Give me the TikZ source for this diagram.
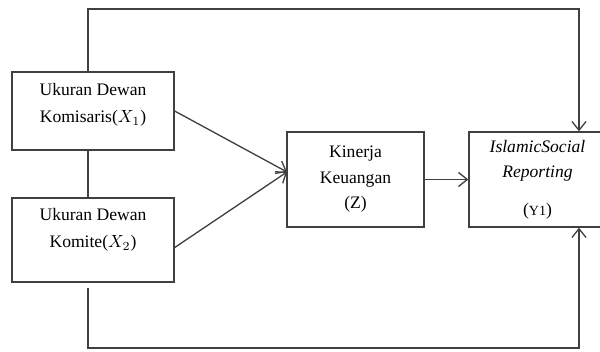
\documentclass[tikz,border=0pt]{standalone}
\usepackage{fontspec}
\setmainfont{Liberation Serif}
\usetikzlibrary{arrows.meta,positioning,calc}

\begin{document}
\begin{tikzpicture}[x=0.02cm,y=-0.02cm,
  box/.style={draw=black!75,line width=0.75pt,inner sep=0pt},
  link/.style={draw=black!75,line width=0.75pt},
  tip/.style={-{Straight Barb[length=5pt,width=8pt]}},
  txt/.style={font=\fontsize{10}{14.5}\selectfont,align=center,inner sep=0pt}]
\useasboundingbox (0,0) rectangle (600,352);
% boxes
\node[box,minimum width=3.24cm,minimum height=1.56cm] (x1) at (93,111) {};
\node[box,minimum width=3.24cm,minimum height=1.68cm] (x2) at (93,240) {};
\node[box,txt,minimum width=2.74cm,minimum height=1.9cm] (z) at (355.5,179.5)
  {Kinerja\\Keuangan\\(Z)};
\node[box,txt,minimum width=2.74cm,minimum height=1.9cm] (y) at (537.5,179.5)
  {\textit{IslamicSocial}\\\textit{Reporting}\\[7pt]({\footnotesize Y1})};
\node[txt,anchor=north,font=\fontsize{10}{15.3}\selectfont] (x1t) at (93,83)
  {Ukuran Dewan\\Komisaris($X_1$)};
\node[txt,anchor=north,font=\fontsize{10}{15.3}\selectfont] (x2t) at (93,208)
  {Ukuran Dewan\\Komite($X_2$)};
% corners of the outer lines
\coordinate (topl) at (88,9);
\coordinate (topr) at (579,9);
\coordinate (botl) at (88,348);
\coordinate (botr) at (579,348);
\coordinate (zin) at (287,172);
\coordinate (x2out) at (174,248);
% connectors
\draw[link,tip] (x1.north -| topl) -- (topl) -- (topr) -- (topr |- y.north);
\draw[link] (x1.south -| topl) -- (x2.north -| topl);
\draw[link,tip] ([yshift=-0.1cm]x2.south -| botl) -- (botl) -- (botr) -- (botr |- y.south);
\draw[link,tip] (x1.east) -- (zin);
\draw[link,tip] (x2out) -- (zin);
\draw[link,tip] (z.east) -- (y.west);
\end{tikzpicture}
\end{document}
